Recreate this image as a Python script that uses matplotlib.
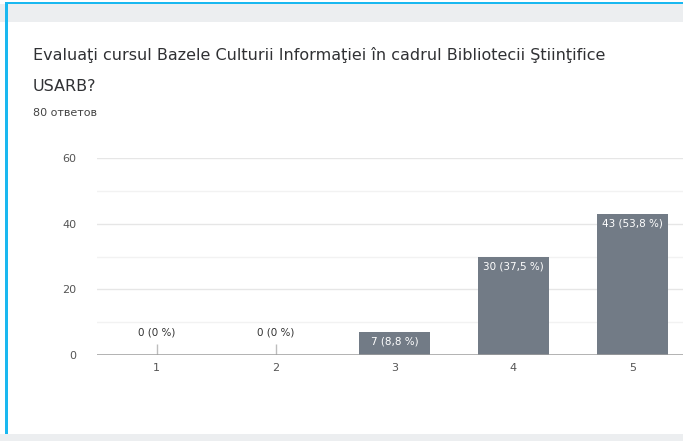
import matplotlib.pyplot as plt
from matplotlib.patches import Rectangle
from matplotlib.ticker import MultipleLocator

categories = [1, 2, 3, 4, 5]
counts = [0, 0, 7, 30, 43]
percents = ["0", "0", "8,8", "37,5", "53,8"]
title_line1 = "Evaluaţi cursul Bazele Culturii Informaţiei în cadrul Bibliotecii Ştiinţifice"
title_line2 = "USARB?"
responses = "80 ответов"

plt.rcParams['font.family'] = ['DejaVu Sans']

fig = plt.figure(figsize=(6.83, 4.41), dpi=100)
fig.patch.set_facecolor("white")

# card frame: gray strips top/bottom, blue left edge
fig.patches.append(Rectangle((0, 1 - 22 / 441), 1, 18 / 441, transform=fig.transFigure,
                             facecolor="#eceef0", edgecolor="none", zorder=0))
fig.patches.append(Rectangle((0, 0), 1, 7 / 441, transform=fig.transFigure,
                             facecolor="#eceef0", edgecolor="none", zorder=0))
fig.patches.append(Rectangle((5 / 683, 1 - 4 / 441), 1, 2 / 441, transform=fig.transFigure,
                             facecolor="#1ab8f0", edgecolor="none", zorder=1))
fig.patches.append(Rectangle((5 / 683, 7 / 441), 3 / 683, 1 - 11 / 441, transform=fig.transFigure,
                             facecolor="#1ab8f0", edgecolor="none", zorder=1))

fig.text(33 / 683, 1 - 55 / 441, title_line1, fontsize=11.5, color="#303134", va="center")
fig.text(33 / 683, 1 - 86 / 441, title_line2, fontsize=11.5, color="#303134", va="center")
fig.text(33 / 683, 1 - 113 / 441, responses, fontsize=8, color="#444444", va="center")

ax = fig.add_axes([97 / 683, 86 / 441, 595 / 683, 197 / 441])
bars = ax.bar(categories, counts, width=0.59, color="#727b86", zorder=3)

for x, c, p in zip(categories, counts, percents):
    label = f"{c} ({p} %)"
    if c == 0:
        ax.vlines(x, 0, 3.5, color="#bdbdbd", lw=1, zorder=3)
        ax.text(x, 6.8, label, ha="center", va="center", fontsize=7.5, color="#333333")
    else:
        ax.text(x, c - 3.0, label, ha="center", va="center", fontsize=7.5, color="white", zorder=4)

ax.set_xlim(0.5, 5.5)
ax.set_ylim(0, 60)
ax.yaxis.set_major_locator(MultipleLocator(20))
ax.yaxis.set_minor_locator(MultipleLocator(10))
ax.set_xticks(categories)
ax.grid(axis="y", which="major", color="#e6e6e6", lw=1, zorder=0)
ax.grid(axis="y", which="minor", color="#f2f2f2", lw=1, zorder=0)
ax.axhline(0, color="#9e9e9e", lw=1.8, zorder=5)
for s in ax.spines.values():
    s.set_visible(False)
ax.tick_params(axis="both", which="both", length=0, labelsize=8, labelcolor="#555555")
ax.tick_params(axis="y", pad=15)
ax.tick_params(axis="x", pad=6)

fig.savefig("out.png", dpi=100)
